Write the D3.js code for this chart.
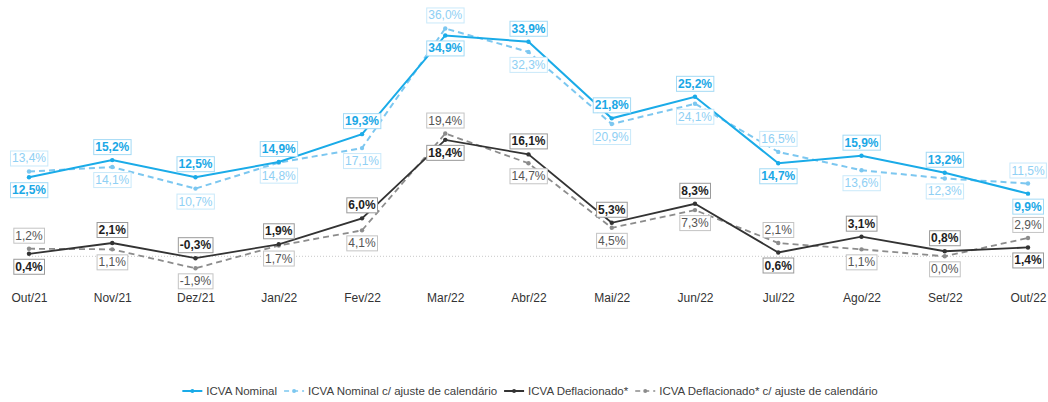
<!DOCTYPE html>
<html>
<head>
<meta charset="utf-8">
<script src="https://cdn.jsdelivr.net/npm/d3@7"></script>
<style>
  body { margin: 0; background: #fff; }
  svg { font-family: "Liberation Sans", Arial, sans-serif; }
</style>
</head>
<body>
<div id="chart"></div>
<script>
// Chart data
const months = ["Out/21", "Nov/21", "Dez/21", "Jan/22", "Fev/22", "Mar/22", "Abr/22", "Mai/22", "Jun/22", "Jul/22", "Ago/22", "Set/22", "Out/22"];
const nominal = [12.5, 15.2, 12.5, 14.9, 19.3, 34.9, 33.9, 21.8, 25.2, 14.7, 15.9, 13.2, 9.9];
const nominalAdj = [13.4, 14.1, 10.7, 14.8, 17.1, 36.0, 32.3, 20.9, 24.1, 16.5, 13.6, 12.3, 11.5];
const deflated = [0.4, 2.1, -0.3, 1.9, 6.0, 18.4, 16.1, 5.3, 8.3, 0.6, 3.1, 0.8, 1.4];
const deflatedAdj = [1.2, 1.1, -1.9, 1.7, 4.1, 19.4, 14.7, 4.5, 7.3, 2.1, 1.1, 0.0, 2.9];
const seriesNames = ["ICVA Nominal", "ICVA Nominal c/ ajuste de calendário", "ICVA Deflacionado*", "ICVA Deflacionado* c/ ajuste de calendário"];

const width = 1048, height = 402;

const svg = d3.select("#chart").append("svg")
    .attr("width", width)
    .attr("height", height);

const x = d3.scalePoint().domain(months).range([29, 1028]);
const y = d3.scaleLinear().domain([0, 35]).range([256.3, 34.8]);

const fmt = v => v.toFixed(1).replace(".", ",") + "%";

// series styles
const series = [
    { name: seriesNames[0], values: nominal, pair: nominalAdj, color: "#1aabe8", dash: null, width: 2,
      text: "#1aa8e6", border: "#a3daf5", bold: true },
    { name: seriesNames[1], values: nominalAdj, pair: nominal, color: "#7cc7f0", dash: "6,4", width: 2,
      text: "#8fd0f4", border: "#c9e9fa", bold: false },
    { name: seriesNames[2], values: deflated, pair: deflatedAdj, color: "#333333", dash: null, width: 1.8,
      text: "#1e1e1e", border: "#9a9a9a", bold: true },
    { name: seriesNames[3], values: deflatedAdj, pair: deflated, color: "#8c8c8c", dash: "6,4", width: 1.8,
      text: "#555555", border: "#c4c4c4", bold: false }
];

// zero reference line
svg.append("line")
    .attr("x1", x(months[0])).attr("x2", x(months[months.length - 1]))
    .attr("y1", y(0)).attr("y2", y(0))
    .attr("stroke", "#c8c8c8")
    .attr("stroke-width", 1)
    .attr("stroke-dasharray", "1,2");

// x axis labels
const xAxis = svg.append("g")
    .attr("transform", `translate(0, 290)`)
    .call(d3.axisBottom(x).tickSize(0).tickPadding(3));
xAxis.select(".domain").remove();
xAxis.selectAll("text")
    .attr("font-size", "12px")
    .attr("font-family", "Liberation Sans, Arial, sans-serif")
    .attr("fill", "#333333");

const line = d3.line()
    .x((d, i) => x(months[i]))
    .y(d => y(d));

// draw lines (dashed first, so solids sit above)
[1, 3, 0, 2].forEach(k => {
    const s = series[k];
    svg.append("path")
        .datum(s.values)
        .attr("fill", "none")
        .attr("stroke", s.color)
        .attr("stroke-width", s.width)
        .attr("stroke-dasharray", s.dash)
        .attr("d", line);

    svg.selectAll(`.dot-${k}`)
        .data(s.values)
        .enter()
        .append("circle")
        .attr("class", `dot-${k}`)
        .attr("cx", (d, i) => x(months[i]))
        .attr("cy", d => y(d))
        .attr("r", 2.2)
        .attr("fill", s.color);
});

// data labels: the higher of each pair goes above, the lower below
series.forEach((s, k) => {
    const g = svg.append("g");
    s.values.forEach((v, i) => {
        const above = v > s.pair[i] || (v === s.pair[i] && k % 2 === 0);
        const cx = x(months[i]);
        const cy = y(v) + (above ? -13 : 13);
        const lab = g.append("g");
        const t = lab.append("text")
            .attr("x", cx)
            .attr("y", cy)
            .attr("text-anchor", "middle")
            .attr("dominant-baseline", "central")
            .attr("font-size", "12px")
            .attr("font-weight", s.bold ? "bold" : "normal")
            .attr("fill", s.text)
            .text(fmt(v));
        const bb = t.node().getBBox();
        lab.insert("rect", "text")
            .attr("x", bb.x - 1.5)
            .attr("y", cy - 7.5)
            .attr("width", bb.width + 3)
            .attr("height", 15)
            .attr("fill", "#fff")
            .attr("stroke", s.border)
            .attr("stroke-width", 1);
    });
});

// legend
const legend = svg.append("g");
let lx = 0;
series.forEach(s => {
    const it = legend.append("g").attr("transform", `translate(${lx}, 0)`);
    it.append("line")
        .attr("x1", 0).attr("x2", 20)
        .attr("y1", 0).attr("y2", 0)
        .attr("stroke", s.color)
        .attr("stroke-width", s.dash ? 1.5 : 2)
        .attr("stroke-dasharray", s.dash ? "5,4" : null);
    it.append("circle").attr("cx", 10).attr("cy", 0).attr("r", 2).attr("fill", s.color);
    const t = it.append("text")
        .attr("x", 24)
        .attr("y", 0)
        .attr("dominant-baseline", "central")
        .attr("font-size", "11.5px")
        .attr("fill", "#404040")
        .text(s.name);
    lx += 24 + t.node().getComputedTextLength() + 7;
});
const lw = lx - 7;
legend.attr("transform", `translate(${530 - lw / 2}, 391)`);
</script>
</body>
</html>
